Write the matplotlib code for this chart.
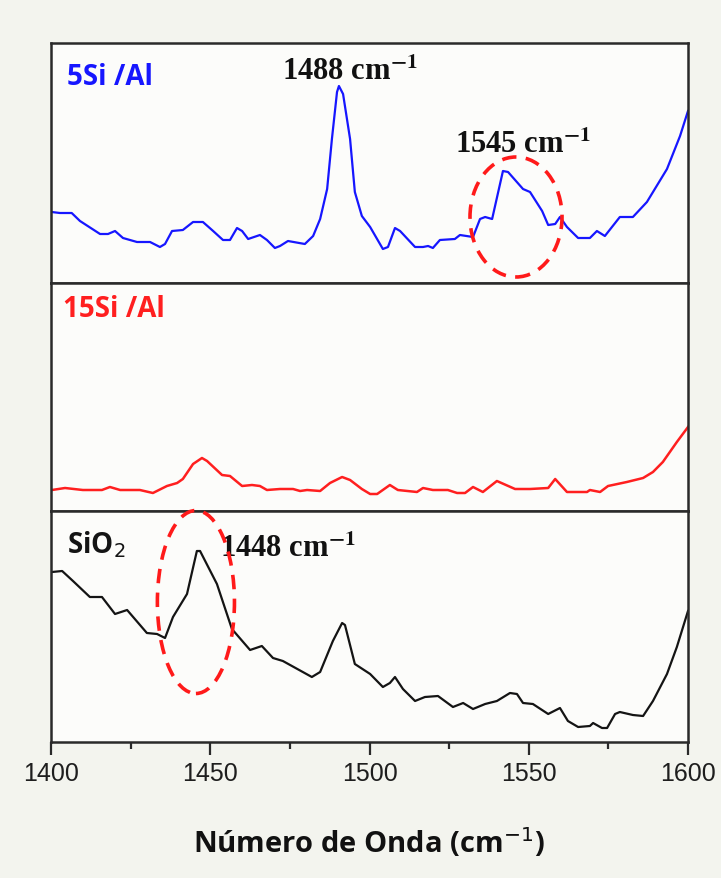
import matplotlib
matplotlib.use('Agg')
import matplotlib.pyplot as plt
from matplotlib.patches import Ellipse

# Espectros FTIR (piridina), unidades arbitrarias
wn_5si = [1400.2, 1402.8, 1406.5, 1409.1, 1415.4, 1417.9, 1420.1, 1422.6, 1427.0, 1431.1,
          1434.2, 1435.8, 1438.0, 1441.4, 1444.6, 1447.7, 1450.9, 1454.0, 1456.2, 1458.4,
          1460.0, 1461.9, 1465.6, 1467.8, 1470.3, 1471.9, 1474.4, 1479.7, 1482.3, 1484.5,
          1486.7, 1488.2, 1489.8, 1490.4, 1491.7, 1493.9, 1495.4, 1497.6, 1500.2, 1504.2,
          1505.8, 1508.0, 1509.6, 1514.3, 1516.8, 1518.4, 1519.9, 1522.1, 1526.8, 1528.4,
          1532.5, 1534.7, 1536.3, 1538.5, 1541.9, 1543.5, 1548.2, 1550.4, 1554.2, 1556.1,
          1558.3, 1559.8, 1562.0, 1565.5, 1569.2, 1571.4, 1573.9, 1578.6, 1582.7, 1587.1,
          1593.4, 1597.5, 1600.0]
int_5si = [71, 70, 70, 62, 49, 49, 52, 45, 41, 41,
           36, 39, 52, 53, 61, 61, 52, 43, 43, 55,
           52, 44, 48, 43, 35, 37, 42, 39, 47, 64,
           94, 144, 191, 197, 189, 144, 91, 67, 56, 34,
           36, 55, 52, 36, 36, 37, 35, 43, 44, 48,
           46, 64, 66, 64, 112, 111, 94, 91, 72, 58,
           59, 66, 56, 45, 45, 52, 47, 66, 66, 81,
           114, 147, 172]

wn_15si = [1400.3, 1404.4, 1410.0, 1416.0, 1418.5, 1421.7, 1427.9, 1432.0, 1436.4, 1439.6,
           1441.4, 1444.6, 1447.4, 1449.0, 1453.7, 1456.2, 1460.0, 1463.1, 1465.6, 1467.8,
           1471.9, 1476.0, 1478.2, 1480.4, 1484.5, 1487.6, 1491.4, 1493.9, 1497.6, 1500.2,
           1502.4, 1506.4, 1508.9, 1514.9, 1516.8, 1519.9, 1524.6, 1527.5, 1530.0, 1532.5,
           1535.6, 1540.0, 1545.7, 1550.4, 1556.1, 1558.3, 1562.0, 1568.3, 1569.2, 1572.4,
           1574.9, 1580.8, 1585.9, 1589.0, 1592.1, 1596.5, 1600.0]
int_15si = [21, 23, 21, 21, 24, 21, 21, 18, 25, 28,
            32, 47, 53, 50, 36, 35, 25, 26, 25, 21,
            22, 22, 20, 21, 20, 28, 34, 31, 22, 17,
            17, 26, 21, 19, 23, 21, 21, 18, 18, 24,
            19, 30, 22, 22, 23, 32, 19, 19, 21, 19,
            25, 29, 33, 39, 49, 69, 84]

wn_sio2 = [1400.3, 1403.5, 1406.9, 1412.2, 1416.0, 1420.1, 1423.9, 1430.1, 1433.3, 1435.8,
           1438.3, 1442.7, 1445.8, 1446.8, 1452.1, 1456.8, 1462.5, 1466.2, 1469.7, 1472.8,
           1481.9, 1484.5, 1488.5, 1491.4, 1492.3, 1495.4, 1500.2, 1504.2, 1506.4, 1508.0,
           1510.5, 1514.3, 1517.4, 1521.5, 1526.2, 1529.4, 1532.5, 1536.3, 1540.0, 1544.1,
           1546.3, 1548.2, 1551.3, 1556.1, 1559.8, 1562.3, 1565.5, 1569.2, 1570.2, 1573.0,
           1574.6, 1577.1, 1578.6, 1582.7, 1585.9, 1589.0, 1593.4, 1596.5, 1600.0]
int_sio2 = [170, 171, 161, 145, 145, 128, 132, 109, 108, 104,
            125, 148, 191, 191, 158, 113, 92, 96, 84, 81,
            65, 70, 101, 119, 117, 78, 68, 55, 59, 65,
            53, 41, 45, 46, 35, 39, 33, 38, 41, 49,
            48, 39, 38, 28, 34, 21, 15, 16, 19, 14,
            14, 28, 30, 27, 26, 41, 68, 95, 131]

muestras = ['5Si /Al', '15Si /Al', 'SiO$_2$']
colores = ['#1616ff', '#ff1f1f', '#141414']
picos = ['1488 cm$^{\\mathbf{-1}}$', '1545 cm$^{\\mathbf{-1}}$', '1448 cm$^{\\mathbf{-1}}$']
xticks = [1400, 1450, 1500, 1550, 1600]

fondo = '#f3f4ee'
fig = plt.figure(figsize=(7.21, 8.79), dpi=100, facecolor=fondo)

# limites de los paneles (fraccion de figura)
izq, ancho = 51 / 721, 637 / 721
bordes = [(44, 284), (284, 512), (512, 743)]
alturas = [240, 228, 231]
axes = []
for (t, b) in bordes:
    ax = fig.add_axes([izq, 1 - b / 879, ancho, (b - t) / 879])
    ax.set_facecolor('#fcfcfa')
    ax.set_xlim(1400, 1600)
    for s in ax.spines.values():
        s.set_color('#2a2a2a')
        s.set_linewidth(1.8)
    ax.set_yticks([])
    axes.append(ax)

series = [(wn_5si, int_5si), (wn_15si, int_15si), (wn_sio2, int_sio2)]
for ax, (x, y), col, h in zip(axes, series, colores, alturas):
    ax.plot(x, y, color=col, lw=1.6 if col != '#ff1f1f' else 1.8)
    ax.set_ylim(0, h)

for ax in axes[:2]:
    ax.set_xticks([])

ax3 = axes[2]
ax3.set_xticks(xticks)
ax3.set_xticks(range(1425, 1600, 50), minor=True)
ax3.tick_params(axis='x', which='major', direction='out', length=9, width=1.6,
                color='#2a2a2a', pad=5, labelsize=18, labelcolor='#1e1e1e')
ax3.tick_params(axis='x', which='minor', direction='out', length=5, width=1.6, color='#2a2a2a')
for lab in ax3.get_xticklabels():
    lab.set_fontfamily('Liberation Sans')

# nombres de las muestras
etiq_pos = [(0.025, 0.829), (0.019, 0.855), (0.025, 0.823)]
for ax, nom, col, (ex, ey) in zip(axes, muestras, colores, etiq_pos):
    ax.text(ex, ey, nom, transform=ax.transAxes, color=col, fontsize=20,
            fontfamily='Open Sans', fontweight='bold', va='baseline',
            math_fontfamily='dejavusans')

# picos señalados
pico_pos = [(axes[0], 1472.5, 204), (axes[0], 1526.8, 131), (axes[2], 1453.1, 186)]
for (ax, px, py), txt in zip(pico_pos, picos):
    ax.text(px, py, txt, fontsize=22, fontfamily='Liberation Serif', fontweight='bold',
            color='#111111', va='baseline', math_fontfamily='stix', clip_on=False, zorder=5)

# elipses discontinuas
elipses = [(axes[0], 1546.0, 66, 28.9, 120), (axes[2], 1445.5, 140, 24.2, 183)]
for ax, cx, cy, w, h in elipses:
    e = Ellipse((cx, cy), w, h, fill=False, edgecolor='#ff1a1a', lw=2.6,
                linestyle=(0, (4, 2.6)), clip_on=False, zorder=6)
    ax.add_patch(e)

fig.text(369 / 721, 1 - 853 / 879, 'Número de Onda (cm$^{-1}$)', ha='center', va='baseline',
         fontsize=21, fontfamily='Open Sans', fontweight='bold', color='#111111',
         math_fontfamily='dejavusans')

fig.savefig('out.png', dpi=100, facecolor=fondo)
